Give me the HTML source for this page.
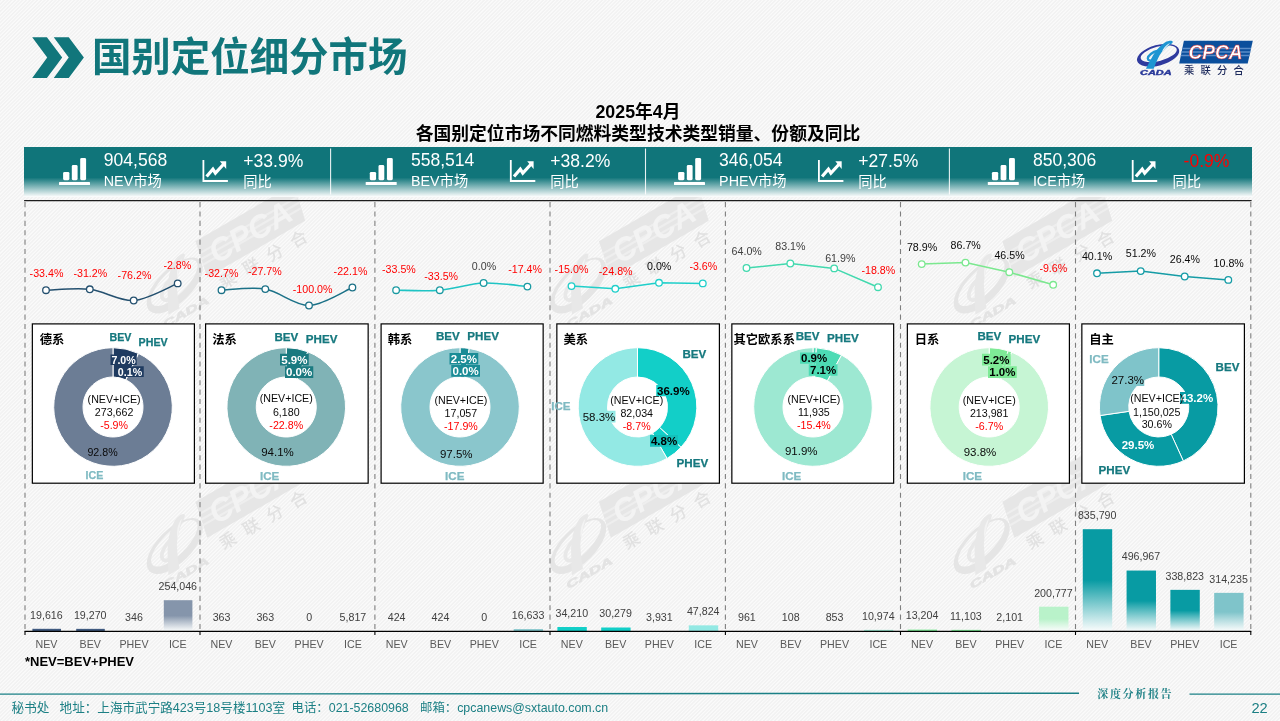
<!DOCTYPE html>
<html lang="zh-CN">
<head>
<meta charset="utf-8">
<title>国别定位细分市场</title>
<style>
*{margin:0;padding:0;box-sizing:border-box}
html,body{width:1280px;height:721px;overflow:hidden;background:#f6f6f6}
body{font-family:"Liberation Sans","Noto Sans CJK SC",sans-serif;position:relative}
#slide{position:absolute;left:0;top:0;width:1280px;height:721px;overflow:hidden;
 background:repeating-linear-gradient(135deg,#f2f2f2 0,#f2f2f2 0.95px,#fafafa 1.45px,#fafafa 2.1px,#f2f2f2 2.61px);}
.t{position:absolute;white-space:nowrap;line-height:1}
svg{position:absolute;left:0;top:0;overflow:visible}
svg text{font-family:"Liberation Sans","Noto Sans CJK SC",sans-serif}
.b{font-weight:bold}
</style>
</head>
<body>
<div id="slide">
<svg id="wm" width="1280" height="721" viewBox="0 0 1280 721" aria-hidden="false">
<g transform="translate(172.5 287) rotate(-30) scale(1.65)"><g transform="translate(0 -2.4)"><path d="M25.9 -14.7H94.8L89.7 7.9H21.2Z" fill="#e6e6e6"/><path d="M24.2 -7H93M23.4 -3.5H92.2M22.6 0H91.4" stroke="#eeeeee" stroke-width="1.3"/><text x="57.5" y="3.8" font-size="19.5" font-weight="bold" font-style="italic" text-anchor="middle" fill="#f3f3f3" textLength="55" lengthAdjust="spacingAndGlyphs">CPCA</text><text x="26" y="19.1" font-size="10.2" font-weight="500" fill="#e1e1e1" letter-spacing="6.3">乘联分合</text></g><g transform="translate(-1156.5 -55.4)"><g transform="translate(1158.1 55.3)"><path transform="rotate(-15)" fill-rule="evenodd" fill="#e5e5e5" d="M-21.7 0A21.7 10.3 0 1 0 21.7 0A21.7 10.3 0 1 0 -21.7 0ZM-17.6 -1.3A18.6 7.2 0 1 1 19.6 -1.3A18.6 7.2 0 1 1 -17.6 -1.3Z"/><path fill="#e8e8e8" d="M-12.2 13.4L-4.4 13.4C-2.5 8.5 -0.5 3.8 1.5 0C4 -4 7.5 -7.5 11 -10C13.5 -11.7 15.2 -12.8 14.6 -13.8C13.8 -15 10 -14.6 7.2 -13C2.5 -10 -2 -5 -5 0C-7.5 4.5 -10.4 10.5 -12.2 13.4Z"/><path fill="#f3f3f3" d="M4.2 -3.4C6.5 -6.6 9.8 -9.8 12.0 -12.2C9.5 -11.4 6.6 -8.6 5.2 -6.2C4.6 -5.2 4.1 -4.2 4.2 -3.4Z"/><path fill="none" stroke="#e8e8e8" stroke-width="2.3" stroke-linecap="round" d="M-0.2 -4.6C-5.5 -3.4 -10.4 0.3 -10.3 3.2C-10.2 5.3 -7.8 5.6 -5.8 5"/><text x="-18.1" y="19.6" font-size="6.3" font-weight="bold" font-style="italic" fill="#e3e3e3" stroke="#e3e3e3" stroke-width="0.35" textLength="31.6" lengthAdjust="spacingAndGlyphs">CADA</text></g></g></g>
<g transform="translate(576 287) rotate(-30) scale(1.65)"><g transform="translate(0 -2.4)"><path d="M25.9 -14.7H94.8L89.7 7.9H21.2Z" fill="#e6e6e6"/><path d="M24.2 -7H93M23.4 -3.5H92.2M22.6 0H91.4" stroke="#eeeeee" stroke-width="1.3"/><text x="57.5" y="3.8" font-size="19.5" font-weight="bold" font-style="italic" text-anchor="middle" fill="#f3f3f3" textLength="55" lengthAdjust="spacingAndGlyphs">CPCA</text><text x="26" y="19.1" font-size="10.2" font-weight="500" fill="#e1e1e1" letter-spacing="6.3">乘联分合</text></g><g transform="translate(-1156.5 -55.4)"><g transform="translate(1158.1 55.3)"><path transform="rotate(-15)" fill-rule="evenodd" fill="#e5e5e5" d="M-21.7 0A21.7 10.3 0 1 0 21.7 0A21.7 10.3 0 1 0 -21.7 0ZM-17.6 -1.3A18.6 7.2 0 1 1 19.6 -1.3A18.6 7.2 0 1 1 -17.6 -1.3Z"/><path fill="#e8e8e8" d="M-12.2 13.4L-4.4 13.4C-2.5 8.5 -0.5 3.8 1.5 0C4 -4 7.5 -7.5 11 -10C13.5 -11.7 15.2 -12.8 14.6 -13.8C13.8 -15 10 -14.6 7.2 -13C2.5 -10 -2 -5 -5 0C-7.5 4.5 -10.4 10.5 -12.2 13.4Z"/><path fill="#f3f3f3" d="M4.2 -3.4C6.5 -6.6 9.8 -9.8 12.0 -12.2C9.5 -11.4 6.6 -8.6 5.2 -6.2C4.6 -5.2 4.1 -4.2 4.2 -3.4Z"/><path fill="none" stroke="#e8e8e8" stroke-width="2.3" stroke-linecap="round" d="M-0.2 -4.6C-5.5 -3.4 -10.4 0.3 -10.3 3.2C-10.2 5.3 -7.8 5.6 -5.8 5"/><text x="-18.1" y="19.6" font-size="6.3" font-weight="bold" font-style="italic" fill="#e3e3e3" stroke="#e3e3e3" stroke-width="0.35" textLength="31.6" lengthAdjust="spacingAndGlyphs">CADA</text></g></g></g>
<g transform="translate(979.5 287) rotate(-30) scale(1.65)"><g transform="translate(0 -2.4)"><path d="M25.9 -14.7H94.8L89.7 7.9H21.2Z" fill="#e6e6e6"/><path d="M24.2 -7H93M23.4 -3.5H92.2M22.6 0H91.4" stroke="#eeeeee" stroke-width="1.3"/><text x="57.5" y="3.8" font-size="19.5" font-weight="bold" font-style="italic" text-anchor="middle" fill="#f3f3f3" textLength="55" lengthAdjust="spacingAndGlyphs">CPCA</text><text x="26" y="19.1" font-size="10.2" font-weight="500" fill="#e1e1e1" letter-spacing="6.3">乘联分合</text></g><g transform="translate(-1156.5 -55.4)"><g transform="translate(1158.1 55.3)"><path transform="rotate(-15)" fill-rule="evenodd" fill="#e5e5e5" d="M-21.7 0A21.7 10.3 0 1 0 21.7 0A21.7 10.3 0 1 0 -21.7 0ZM-17.6 -1.3A18.6 7.2 0 1 1 19.6 -1.3A18.6 7.2 0 1 1 -17.6 -1.3Z"/><path fill="#e8e8e8" d="M-12.2 13.4L-4.4 13.4C-2.5 8.5 -0.5 3.8 1.5 0C4 -4 7.5 -7.5 11 -10C13.5 -11.7 15.2 -12.8 14.6 -13.8C13.8 -15 10 -14.6 7.2 -13C2.5 -10 -2 -5 -5 0C-7.5 4.5 -10.4 10.5 -12.2 13.4Z"/><path fill="#f3f3f3" d="M4.2 -3.4C6.5 -6.6 9.8 -9.8 12.0 -12.2C9.5 -11.4 6.6 -8.6 5.2 -6.2C4.6 -5.2 4.1 -4.2 4.2 -3.4Z"/><path fill="none" stroke="#e8e8e8" stroke-width="2.3" stroke-linecap="round" d="M-0.2 -4.6C-5.5 -3.4 -10.4 0.3 -10.3 3.2C-10.2 5.3 -7.8 5.6 -5.8 5"/><text x="-18.1" y="19.6" font-size="6.3" font-weight="bold" font-style="italic" fill="#e3e3e3" stroke="#e3e3e3" stroke-width="0.35" textLength="31.6" lengthAdjust="spacingAndGlyphs">CADA</text></g></g></g>
<g transform="translate(172.5 547.5) rotate(-30) scale(1.65)"><g transform="translate(0 -2.4)"><path d="M25.9 -14.7H94.8L89.7 7.9H21.2Z" fill="#e6e6e6"/><path d="M24.2 -7H93M23.4 -3.5H92.2M22.6 0H91.4" stroke="#eeeeee" stroke-width="1.3"/><text x="57.5" y="3.8" font-size="19.5" font-weight="bold" font-style="italic" text-anchor="middle" fill="#f3f3f3" textLength="55" lengthAdjust="spacingAndGlyphs">CPCA</text><text x="26" y="19.1" font-size="10.2" font-weight="500" fill="#e1e1e1" letter-spacing="6.3">乘联分合</text></g><g transform="translate(-1156.5 -55.4)"><g transform="translate(1158.1 55.3)"><path transform="rotate(-15)" fill-rule="evenodd" fill="#e5e5e5" d="M-21.7 0A21.7 10.3 0 1 0 21.7 0A21.7 10.3 0 1 0 -21.7 0ZM-17.6 -1.3A18.6 7.2 0 1 1 19.6 -1.3A18.6 7.2 0 1 1 -17.6 -1.3Z"/><path fill="#e8e8e8" d="M-12.2 13.4L-4.4 13.4C-2.5 8.5 -0.5 3.8 1.5 0C4 -4 7.5 -7.5 11 -10C13.5 -11.7 15.2 -12.8 14.6 -13.8C13.8 -15 10 -14.6 7.2 -13C2.5 -10 -2 -5 -5 0C-7.5 4.5 -10.4 10.5 -12.2 13.4Z"/><path fill="#f3f3f3" d="M4.2 -3.4C6.5 -6.6 9.8 -9.8 12.0 -12.2C9.5 -11.4 6.6 -8.6 5.2 -6.2C4.6 -5.2 4.1 -4.2 4.2 -3.4Z"/><path fill="none" stroke="#e8e8e8" stroke-width="2.3" stroke-linecap="round" d="M-0.2 -4.6C-5.5 -3.4 -10.4 0.3 -10.3 3.2C-10.2 5.3 -7.8 5.6 -5.8 5"/><text x="-18.1" y="19.6" font-size="6.3" font-weight="bold" font-style="italic" fill="#e3e3e3" stroke="#e3e3e3" stroke-width="0.35" textLength="31.6" lengthAdjust="spacingAndGlyphs">CADA</text></g></g></g>
<g transform="translate(576 547.5) rotate(-30) scale(1.65)"><g transform="translate(0 -2.4)"><path d="M25.9 -14.7H94.8L89.7 7.9H21.2Z" fill="#e6e6e6"/><path d="M24.2 -7H93M23.4 -3.5H92.2M22.6 0H91.4" stroke="#eeeeee" stroke-width="1.3"/><text x="57.5" y="3.8" font-size="19.5" font-weight="bold" font-style="italic" text-anchor="middle" fill="#f3f3f3" textLength="55" lengthAdjust="spacingAndGlyphs">CPCA</text><text x="26" y="19.1" font-size="10.2" font-weight="500" fill="#e1e1e1" letter-spacing="6.3">乘联分合</text></g><g transform="translate(-1156.5 -55.4)"><g transform="translate(1158.1 55.3)"><path transform="rotate(-15)" fill-rule="evenodd" fill="#e5e5e5" d="M-21.7 0A21.7 10.3 0 1 0 21.7 0A21.7 10.3 0 1 0 -21.7 0ZM-17.6 -1.3A18.6 7.2 0 1 1 19.6 -1.3A18.6 7.2 0 1 1 -17.6 -1.3Z"/><path fill="#e8e8e8" d="M-12.2 13.4L-4.4 13.4C-2.5 8.5 -0.5 3.8 1.5 0C4 -4 7.5 -7.5 11 -10C13.5 -11.7 15.2 -12.8 14.6 -13.8C13.8 -15 10 -14.6 7.2 -13C2.5 -10 -2 -5 -5 0C-7.5 4.5 -10.4 10.5 -12.2 13.4Z"/><path fill="#f3f3f3" d="M4.2 -3.4C6.5 -6.6 9.8 -9.8 12.0 -12.2C9.5 -11.4 6.6 -8.6 5.2 -6.2C4.6 -5.2 4.1 -4.2 4.2 -3.4Z"/><path fill="none" stroke="#e8e8e8" stroke-width="2.3" stroke-linecap="round" d="M-0.2 -4.6C-5.5 -3.4 -10.4 0.3 -10.3 3.2C-10.2 5.3 -7.8 5.6 -5.8 5"/><text x="-18.1" y="19.6" font-size="6.3" font-weight="bold" font-style="italic" fill="#e3e3e3" stroke="#e3e3e3" stroke-width="0.35" textLength="31.6" lengthAdjust="spacingAndGlyphs">CADA</text></g></g></g>
<g transform="translate(979.5 547.5) rotate(-30) scale(1.65)"><g transform="translate(0 -2.4)"><path d="M25.9 -14.7H94.8L89.7 7.9H21.2Z" fill="#e6e6e6"/><path d="M24.2 -7H93M23.4 -3.5H92.2M22.6 0H91.4" stroke="#eeeeee" stroke-width="1.3"/><text x="57.5" y="3.8" font-size="19.5" font-weight="bold" font-style="italic" text-anchor="middle" fill="#f3f3f3" textLength="55" lengthAdjust="spacingAndGlyphs">CPCA</text><text x="26" y="19.1" font-size="10.2" font-weight="500" fill="#e1e1e1" letter-spacing="6.3">乘联分合</text></g><g transform="translate(-1156.5 -55.4)"><g transform="translate(1158.1 55.3)"><path transform="rotate(-15)" fill-rule="evenodd" fill="#e5e5e5" d="M-21.7 0A21.7 10.3 0 1 0 21.7 0A21.7 10.3 0 1 0 -21.7 0ZM-17.6 -1.3A18.6 7.2 0 1 1 19.6 -1.3A18.6 7.2 0 1 1 -17.6 -1.3Z"/><path fill="#e8e8e8" d="M-12.2 13.4L-4.4 13.4C-2.5 8.5 -0.5 3.8 1.5 0C4 -4 7.5 -7.5 11 -10C13.5 -11.7 15.2 -12.8 14.6 -13.8C13.8 -15 10 -14.6 7.2 -13C2.5 -10 -2 -5 -5 0C-7.5 4.5 -10.4 10.5 -12.2 13.4Z"/><path fill="#f3f3f3" d="M4.2 -3.4C6.5 -6.6 9.8 -9.8 12.0 -12.2C9.5 -11.4 6.6 -8.6 5.2 -6.2C4.6 -5.2 4.1 -4.2 4.2 -3.4Z"/><path fill="none" stroke="#e8e8e8" stroke-width="2.3" stroke-linecap="round" d="M-0.2 -4.6C-5.5 -3.4 -10.4 0.3 -10.3 3.2C-10.2 5.3 -7.8 5.6 -5.8 5"/><text x="-18.1" y="19.6" font-size="6.3" font-weight="bold" font-style="italic" fill="#e3e3e3" stroke="#e3e3e3" stroke-width="0.35" textLength="31.6" lengthAdjust="spacingAndGlyphs">CADA</text></g></g></g>
</svg>
<header>
<svg width="1280" height="100" viewBox="0 0 1280 100" aria-hidden="true"><path d="M32.2 37.2H46.9L62.2 57.5L46.9 78H32.2L47.2 57.5Z" fill="#11767b"/><path d="M53.75 37.2H68.75L83.9 57.5L68.75 78H53.75L68.75 57.5Z" fill="#11767b"/></svg>
<svg width="1280" height="100" viewBox="0 0 1280 100"><path d="M1183.9 40.8H1252.8L1247.7 63.4H1179.2Z" fill="#0b4f9c"/><path d="M1182.3 48.5H1251.0" stroke="#5a8cc8" stroke-width="1.3"/><path d="M1181.5 52H1250.2" stroke="#5a8cc8" stroke-width="1.3"/><path d="M1180.8 55.5H1249.5" stroke="#5a8cc8" stroke-width="1.3"/><text x="1215.5" y="59.3" font-size="19.5" font-weight="bold" font-style="italic" text-anchor="middle" fill="#fff" stroke="#e03030" stroke-width="0.5" textLength="54" lengthAdjust="spacingAndGlyphs">CPCA</text><text x="1184" y="74.2" font-size="10.3" font-weight="500" fill="#1c2a5c" letter-spacing="6.2">乘联分合</text><g transform="translate(1158.1 55.3)"><path transform="rotate(-15)" fill-rule="evenodd" fill="#2f3a9e" d="M-21.7 0A21.7 10.3 0 1 0 21.7 0A21.7 10.3 0 1 0 -21.7 0ZM-17.6 -1.3A18.6 7.2 0 1 1 19.6 -1.3A18.6 7.2 0 1 1 -17.6 -1.3Z"/><path fill="#1e95d2" d="M-12.2 13.4L-4.4 13.4C-2.5 8.5 -0.5 3.8 1.5 0C4 -4 7.5 -7.5 11 -10C13.5 -11.7 15.2 -12.8 14.6 -13.8C13.8 -15 10 -14.6 7.2 -13C2.5 -10 -2 -5 -5 0C-7.5 4.5 -10.4 10.5 -12.2 13.4Z"/><path fill="#f6f6f6" d="M4.2 -3.4C6.5 -6.6 9.8 -9.8 12.0 -12.2C9.5 -11.4 6.6 -8.6 5.2 -6.2C4.6 -5.2 4.1 -4.2 4.2 -3.4Z"/><path fill="none" stroke="#1e95d2" stroke-width="2.3" stroke-linecap="round" d="M-0.2 -4.6C-5.5 -3.4 -10.4 0.3 -10.3 3.2C-10.2 5.3 -7.8 5.6 -5.8 5"/><text x="-18.1" y="19.6" font-size="6.3" font-weight="bold" font-style="italic" fill="#2a3a9a" stroke="#2a3a9a" stroke-width="0.35" textLength="31.6" lengthAdjust="spacingAndGlyphs">CADA</text></g></svg>
<svg width="1280" height="150" viewBox="0 0 1280 150" role="heading">
<text x="91.90" y="71.00" font-size="39.45" fill="#11767b" font-weight="bold">国别定位细分市场</text>
<text x="638.00" y="118.00" font-size="17.8" fill="#000" font-weight="bold" text-anchor="middle">2025年4月</text>
<text x="638.00" y="140.30" font-size="17.8" fill="#000" font-weight="bold" text-anchor="middle">各国别定位市场不同燃料类型技术类型销量、份额及同比</text>
</svg>
</header>
<section id="kpi">
<div style="position:absolute;left:24px;top:147px;width:1228px;height:49.5px;background:linear-gradient(180deg,#10757a 0,#10757a 61%,rgba(255,255,255,.96) 100%)"></div>
<svg width="1280" height="721" viewBox="0 0 1280 721" aria-hidden="true"><path d="M330.6 148.5V194.5" stroke="#fff" stroke-width="1.1" opacity=".9"/><path d="M645.5 148.5V194.5" stroke="#fff" stroke-width="1.1" opacity=".9"/><path d="M949.4 148.5V194.5" stroke="#fff" stroke-width="1.1" opacity=".9"/><g fill="#fff"><rect x="59.0" y="181.9" width="31" height="3.1" rx=".6"/><rect x="63.1" y="171.9" width="6.3" height="8.3" rx="1.4"/><rect x="71.8" y="165" width="5.8" height="15.2" rx="1.4"/><rect x="80.2" y="158.1" width="5.9" height="22.1" rx="1.4"/></g><g fill="none" stroke="#fff"><path d="M203.4 160V181H227.9" stroke-width="1.8"/><path d="M206.6 176.5L212.9 169.2L215.4 173.2L223.8 164" stroke-width="3.2" stroke-linejoin="miter"/></g><path d="M219.8 161.2H226.2V169Z" fill="#fff"/><g fill="#fff"><rect x="365.7" y="181.9" width="31" height="3.1" rx=".6"/><rect x="369.8" y="171.9" width="6.3" height="8.3" rx="1.4"/><rect x="378.5" y="165" width="5.8" height="15.2" rx="1.4"/><rect x="386.9" y="158.1" width="5.9" height="22.1" rx="1.4"/></g><g fill="none" stroke="#fff"><path d="M510.8 160V181H535.3" stroke-width="1.8"/><path d="M514.0 176.5L520.3 169.2L522.8 173.2L531.2 164" stroke-width="3.2" stroke-linejoin="miter"/></g><path d="M527.2 161.2H533.6V169Z" fill="#fff"/><g fill="#fff"><rect x="674.0" y="181.9" width="31" height="3.1" rx=".6"/><rect x="678.1" y="171.9" width="6.3" height="8.3" rx="1.4"/><rect x="686.8" y="165" width="5.8" height="15.2" rx="1.4"/><rect x="695.2" y="158.1" width="5.9" height="22.1" rx="1.4"/></g><g fill="none" stroke="#fff"><path d="M818.9 160V181H843.4" stroke-width="1.8"/><path d="M822.1 176.5L828.4 169.2L830.9 173.2L839.3 164" stroke-width="3.2" stroke-linejoin="miter"/></g><path d="M835.3 161.2H841.7V169Z" fill="#fff"/><g fill="#fff"><rect x="987.8" y="181.9" width="31" height="3.1" rx=".6"/><rect x="991.9" y="171.9" width="6.3" height="8.3" rx="1.4"/><rect x="1000.6" y="165" width="5.8" height="15.2" rx="1.4"/><rect x="1009.0" y="158.1" width="5.9" height="22.1" rx="1.4"/></g><g fill="none" stroke="#fff"><path d="M1132.7 160V181H1157.2" stroke-width="1.8"/><path d="M1135.9 176.5L1142.2 169.2L1144.7 173.2L1153.1 164" stroke-width="3.2" stroke-linejoin="miter"/></g><path d="M1149.1 161.2H1155.5V169Z" fill="#fff"/></svg>
<svg width="1280" height="721" viewBox="0 0 1280 721">
<text transform="translate(103.80 165.90) scale(1 1.07)" font-size="17.55" fill="#fff">904,568</text>
<text transform="translate(103.80 186.10) scale(1 1.04)" font-size="14.3" fill="#fff">NEV市场</text>
<text transform="translate(243.30 167.15) scale(1 1.07)" font-size="17.55" fill="#fff">+33.9%</text>
<text transform="translate(243.20 186.60) scale(1 1.04)" font-size="14.3" fill="#fff">同比</text>
<text transform="translate(411.00 165.90) scale(1 1.07)" font-size="17.55" fill="#fff">558,514</text>
<text transform="translate(411.00 186.10) scale(1 1.04)" font-size="14.3" fill="#fff">BEV市场</text>
<text transform="translate(550.30 167.15) scale(1 1.07)" font-size="17.55" fill="#fff">+38.2%</text>
<text transform="translate(550.20 186.60) scale(1 1.04)" font-size="14.3" fill="#fff">同比</text>
<text transform="translate(719.10 165.90) scale(1 1.07)" font-size="17.55" fill="#fff">346,054</text>
<text transform="translate(719.10 186.10) scale(1 1.04)" font-size="14.3" fill="#fff">PHEV市场</text>
<text transform="translate(858.30 167.15) scale(1 1.07)" font-size="17.55" fill="#fff">+27.5%</text>
<text transform="translate(858.20 186.60) scale(1 1.04)" font-size="14.3" fill="#fff">同比</text>
<text transform="translate(1032.90 165.90) scale(1 1.07)" font-size="17.55" fill="#fff">850,306</text>
<text transform="translate(1032.90 186.10) scale(1 1.04)" font-size="14.3" fill="#fff">ICE市场</text>
<text transform="translate(1183.60 167.15) scale(1 1.07)" font-size="17.55" fill="#ff0000">-0.9%</text>
<text transform="translate(1172.40 186.60) scale(1 1.04)" font-size="14.3" fill="#fff">同比</text>
</svg>
</section>
<svg id="charts" width="1280" height="721" viewBox="0 0 1280 721">
<path d="M24.1 200.6H1251.6" stroke="#1e1e1e" stroke-width="1.15"/>
<path d="M25.0 202V630.7" stroke="#7f7f7f" stroke-width="1.1" stroke-dasharray="5.2 4.175"/>
<path d="M200.0 202V630.7" stroke="#7f7f7f" stroke-width="1.1" stroke-dasharray="5.2 4.175"/>
<path d="M374.9 202V630.7" stroke="#7f7f7f" stroke-width="1.1" stroke-dasharray="5.2 4.175"/>
<path d="M550.0 202V630.7" stroke="#7f7f7f" stroke-width="1.1" stroke-dasharray="5.2 4.175"/>
<path d="M725.4 202V630.7" stroke="#7f7f7f" stroke-width="1.1" stroke-dasharray="5.2 4.175"/>
<path d="M900.5 202V630.7" stroke="#7f7f7f" stroke-width="1.1" stroke-dasharray="5.2 4.175"/>
<path d="M1075.5 202V630.7" stroke="#7f7f7f" stroke-width="1.1" stroke-dasharray="5.2 4.175"/>
<path d="M1250.8 202V630.7" stroke="#7f7f7f" stroke-width="1.1" stroke-dasharray="5.2 4.175"/>
<path d="M46.0 290.2C53.0 290.1 75.8 287.7 89.8 289.3C103.8 290.9 119.6 301.4 133.7 300.5C147.8 299.6 170.7 286.1 177.7 283.4" fill="none" stroke="#24506f" stroke-width="1.55" stroke-linecap="round" stroke-linejoin="round"/>
<circle cx="46.0" cy="290.2" r="3.3" fill="#fff" stroke="#24506f" stroke-width="1.3"/>
<circle cx="89.8" cy="289.3" r="3.3" fill="#fff" stroke="#24506f" stroke-width="1.3"/>
<circle cx="133.7" cy="300.5" r="3.3" fill="#fff" stroke="#24506f" stroke-width="1.3"/>
<circle cx="177.7" cy="283.4" r="3.3" fill="#fff" stroke="#24506f" stroke-width="1.3"/>
<text x="46.50" y="277.22" font-size="10.67" fill="#ff0000" text-anchor="middle">-33.4%</text>
<text x="90.30" y="276.82" font-size="10.67" fill="#ff0000" text-anchor="middle">-31.2%</text>
<text x="134.50" y="279.12" font-size="10.67" fill="#ff0000" text-anchor="middle">-76.2%</text>
<text x="177.30" y="269.12" font-size="10.67" fill="#ff0000" text-anchor="middle">-2.8%</text>
<path d="M221.5 290.2C228.5 290.0 251.3 286.7 265.3 289.1C279.3 291.5 295.1 305.8 309.0 305.5C322.9 305.2 345.5 290.4 352.4 287.5" fill="none" stroke="#1b7187" stroke-width="1.55" stroke-linecap="round" stroke-linejoin="round"/>
<circle cx="221.5" cy="290.2" r="3.3" fill="#fff" stroke="#1b7187" stroke-width="1.3"/>
<circle cx="265.3" cy="289.1" r="3.3" fill="#fff" stroke="#1b7187" stroke-width="1.3"/>
<circle cx="309.0" cy="305.5" r="3.3" fill="#fff" stroke="#1b7187" stroke-width="1.3"/>
<circle cx="352.4" cy="287.5" r="3.3" fill="#fff" stroke="#1b7187" stroke-width="1.3"/>
<text x="221.50" y="277.22" font-size="10.67" fill="#ff0000" text-anchor="middle">-32.7%</text>
<text x="264.80" y="275.12" font-size="10.67" fill="#ff0000" text-anchor="middle">-27.7%</text>
<text x="312.60" y="292.92" font-size="10.67" fill="#ff0000" text-anchor="middle">-100.0%</text>
<text x="350.50" y="275.12" font-size="10.67" fill="#ff0000" text-anchor="middle">-22.1%</text>
<path d="M396.1 290.2C403.1 290.2 425.8 291.4 439.8 290.2C453.8 289.0 469.6 283.6 483.6 283.0C497.6 282.4 520.4 286.0 527.4 286.6" fill="none" stroke="#1fc4c4" stroke-width="1.55" stroke-linecap="round" stroke-linejoin="round"/>
<circle cx="396.1" cy="290.2" r="3.3" fill="#fff" stroke="#1a9aa2" stroke-width="1.3"/>
<circle cx="439.8" cy="290.2" r="3.3" fill="#fff" stroke="#1a9aa2" stroke-width="1.3"/>
<circle cx="483.6" cy="283.0" r="3.3" fill="#fff" stroke="#1a9aa2" stroke-width="1.3"/>
<circle cx="527.4" cy="286.6" r="3.3" fill="#fff" stroke="#1a9aa2" stroke-width="1.3"/>
<text x="398.90" y="272.72" font-size="10.67" fill="#ff0000" text-anchor="middle">-33.5%</text>
<text x="441.20" y="280.02" font-size="10.67" fill="#ff0000" text-anchor="middle">-33.5%</text>
<text x="484.00" y="269.72" font-size="10.67" fill="#404040" text-anchor="middle">0.0%</text>
<text x="525.10" y="272.72" font-size="10.67" fill="#ff0000" text-anchor="middle">-17.4%</text>
<path d="M571.5 286.1L615.3 288.8L659.0 282.8L702.8 283.4" fill="none" stroke="#1fcfca" stroke-width="1.55" stroke-linecap="round" stroke-linejoin="round"/>
<circle cx="571.5" cy="286.1" r="3.3" fill="#fff" stroke="#1fcfca" stroke-width="1.3"/>
<circle cx="615.3" cy="288.8" r="3.3" fill="#fff" stroke="#1fcfca" stroke-width="1.3"/>
<circle cx="659.0" cy="282.8" r="3.3" fill="#fff" stroke="#1fcfca" stroke-width="1.3"/>
<circle cx="702.8" cy="283.4" r="3.3" fill="#fff" stroke="#1fcfca" stroke-width="1.3"/>
<text x="571.50" y="272.72" font-size="10.67" fill="#ff0000" text-anchor="middle">-15.0%</text>
<text x="615.70" y="275.42" font-size="10.67" fill="#ff0000" text-anchor="middle">-24.8%</text>
<text x="659.20" y="269.72" font-size="10.67" fill="#0a0a0a" text-anchor="middle">0.0%</text>
<text x="703.30" y="270.02" font-size="10.67" fill="#ff0000" text-anchor="middle">-3.6%</text>
<path d="M746.5 268.0L790.3 263.5L834.2 268.4L878.0 287.2" fill="none" stroke="#41d9ae" stroke-width="1.55" stroke-linecap="round" stroke-linejoin="round"/>
<circle cx="746.5" cy="268.0" r="3.3" fill="#fff" stroke="#41d9ae" stroke-width="1.3"/>
<circle cx="790.3" cy="263.5" r="3.3" fill="#fff" stroke="#41d9ae" stroke-width="1.3"/>
<circle cx="834.2" cy="268.4" r="3.3" fill="#fff" stroke="#41d9ae" stroke-width="1.3"/>
<circle cx="878.0" cy="287.2" r="3.3" fill="#fff" stroke="#41d9ae" stroke-width="1.3"/>
<text x="746.70" y="255.12" font-size="10.67" fill="#404040" text-anchor="middle">64.0%</text>
<text x="790.40" y="250.22" font-size="10.67" fill="#404040" text-anchor="middle">83.1%</text>
<text x="840.30" y="262.32" font-size="10.67" fill="#404040" text-anchor="middle">61.9%</text>
<text x="878.30" y="274.02" font-size="10.67" fill="#ff0000" text-anchor="middle">-18.8%</text>
<path d="M921.7 264.1L965.5 262.6L1009.3 272.2L1053.2 284.8" fill="none" stroke="#7be88f" stroke-width="1.55" stroke-linecap="round" stroke-linejoin="round"/>
<circle cx="921.7" cy="264.1" r="3.3" fill="#fff" stroke="#7be88f" stroke-width="1.3"/>
<circle cx="965.5" cy="262.6" r="3.3" fill="#fff" stroke="#7be88f" stroke-width="1.3"/>
<circle cx="1009.3" cy="272.2" r="3.3" fill="#fff" stroke="#7be88f" stroke-width="1.3"/>
<circle cx="1053.2" cy="284.8" r="3.3" fill="#fff" stroke="#7be88f" stroke-width="1.3"/>
<text x="922.00" y="251.12" font-size="10.67" fill="#0a0a0a" text-anchor="middle">78.9%</text>
<text x="965.70" y="249.32" font-size="10.67" fill="#0a0a0a" text-anchor="middle">86.7%</text>
<text x="1009.50" y="258.72" font-size="10.67" fill="#0a0a0a" text-anchor="middle">46.5%</text>
<text x="1053.30" y="271.82" font-size="10.67" fill="#ff0000" text-anchor="middle">-9.6%</text>
<path d="M1097.0 273.3L1140.7 271.1L1184.7 276.5L1228.3 279.9" fill="none" stroke="#159ca6" stroke-width="1.55" stroke-linecap="round" stroke-linejoin="round"/>
<circle cx="1097.0" cy="273.3" r="3.3" fill="#fff" stroke="#159ca6" stroke-width="1.3"/>
<circle cx="1140.7" cy="271.1" r="3.3" fill="#fff" stroke="#159ca6" stroke-width="1.3"/>
<circle cx="1184.7" cy="276.5" r="3.3" fill="#fff" stroke="#159ca6" stroke-width="1.3"/>
<circle cx="1228.3" cy="279.9" r="3.3" fill="#fff" stroke="#159ca6" stroke-width="1.3"/>
<text x="1097.00" y="260.12" font-size="10.67" fill="#0a0a0a" text-anchor="middle">40.1%</text>
<text x="1140.90" y="257.42" font-size="10.67" fill="#0a0a0a" text-anchor="middle">51.2%</text>
<text x="1184.90" y="263.22" font-size="10.67" fill="#0a0a0a" text-anchor="middle">26.4%</text>
<text x="1228.70" y="267.32" font-size="10.67" fill="#0a0a0a" text-anchor="middle">10.8%</text>
<rect x="32.35" y="323.9" width="162.05" height="159.3" fill="#fff" stroke="#000" stroke-width="1.2"/>
<rect x="205.60" y="323.9" width="162.55" height="159.3" fill="#fff" stroke="#000" stroke-width="1.2"/>
<rect x="381.10" y="323.9" width="162.05" height="159.3" fill="#fff" stroke="#000" stroke-width="1.2"/>
<rect x="556.85" y="323.9" width="162.55" height="159.3" fill="#fff" stroke="#000" stroke-width="1.2"/>
<rect x="731.85" y="323.9" width="161.80" height="159.3" fill="#fff" stroke="#000" stroke-width="1.2"/>
<rect x="907.35" y="323.9" width="162.05" height="159.3" fill="#fff" stroke="#000" stroke-width="1.2"/>
<rect x="1081.85" y="323.9" width="162.55" height="159.3" fill="#fff" stroke="#000" stroke-width="1.2"/>
<path d="M113.00 347.70A59.3 59.3 0 0 1 138.27 353.35L125.79 379.86A30 30 0 0 0 113.00 377.00Z" fill="#1f3b60" stroke="#fff" stroke-width="1" stroke-linejoin="round"/>
<path d="M138.27 353.35A59.3 59.3 0 0 1 138.61 353.51L125.96 379.94A30 30 0 0 0 125.79 379.86Z" fill="#1f3b60" stroke="#fff" stroke-width="1" stroke-linejoin="round"/>
<path d="M138.61 353.51A59.3 59.3 0 1 1 113.00 347.70L113.00 377.00A30 30 0 1 0 125.96 379.94Z" fill="#6c7d95" stroke="#fff" stroke-width="1" stroke-linejoin="round"/>
<text x="39.70" y="344.30" font-size="12.3" fill="#000" font-weight="bold">德系</text>
<text x="120.40" y="341.32" font-size="10.67" fill="#15787e" font-weight="bold" text-anchor="middle" stroke="#15787e" stroke-width="0.25">BEV</text>
<text x="153.10" y="345.57" font-size="10.67" fill="#15787e" font-weight="bold" text-anchor="middle" stroke="#15787e" stroke-width="0.25">PHEV</text>
<text x="94.50" y="478.82" font-size="10.67" fill="#7fbac2" font-weight="bold" text-anchor="middle" stroke="#7fbac2" stroke-width="0.25">ICE</text>
<rect x="110.50" y="354.50" width="26.25" height="10.50" fill="#1f3b60"/>
<text x="123.62" y="363.77" font-size="10.67" fill="#fff" font-weight="bold" text-anchor="middle">7.0%</text>
<rect x="116.25" y="366.25" width="27.50" height="10.75" fill="#1f3b60"/>
<text x="130.00" y="375.64" font-size="10.67" fill="#fff" font-weight="bold" text-anchor="middle">0.1%</text>
<text x="102.50" y="455.82" font-size="10.67" fill="#0a0a0a" text-anchor="middle">92.8%</text>
<text x="114.10" y="403.20" font-size="10.67" fill="#0a0a0a" text-anchor="middle">(NEV+ICE)</text>
<text x="114.10" y="416.32" font-size="10.67" fill="#0a0a0a" text-anchor="middle">273,662</text>
<text x="114.10" y="429.32" font-size="10.67" fill="#ff0000" text-anchor="middle">-5.9%</text>
<path d="M286.25 347.70A59.3 59.3 0 0 1 307.73 351.73L297.12 379.04A30 30 0 0 0 286.25 377.00Z" fill="#1a7a80" stroke="#fff" stroke-width="1" stroke-linejoin="round"/>
<path d="M307.73 351.73A59.3 59.3 0 1 1 286.25 347.70L286.25 377.00A30 30 0 1 0 297.12 379.04Z" fill="#80b3b6" stroke="#fff" stroke-width="1" stroke-linejoin="round"/>
<text x="212.20" y="344.30" font-size="12.3" fill="#000" font-weight="bold">法系</text>
<text x="286.40" y="340.90" font-size="11.6" fill="#15787e" font-weight="bold" text-anchor="middle" stroke="#15787e" stroke-width="0.25">BEV</text>
<text x="321.60" y="343.40" font-size="11.6" fill="#15787e" font-weight="bold" text-anchor="middle" stroke="#15787e" stroke-width="0.25">PHEV</text>
<text x="269.60" y="479.90" font-size="11.6" fill="#7fbac2" font-weight="bold" text-anchor="middle" stroke="#7fbac2" stroke-width="0.25">ICE</text>
<rect x="280.00" y="353.75" width="28.75" height="11.75" fill="#1a7a80"/>
<text x="294.38" y="363.94" font-size="11.5" fill="#fff" font-weight="bold" text-anchor="middle">5.9%</text>
<rect x="285.00" y="366.25" width="28.25" height="11.75" fill="#1a7a80"/>
<text x="299.12" y="376.44" font-size="11.5" fill="#fff" font-weight="bold" text-anchor="middle">0.0%</text>
<text x="277.50" y="456.12" font-size="11.5" fill="#0a0a0a" text-anchor="middle">94.1%</text>
<text x="286.25" y="402.45" font-size="10.67" fill="#0a0a0a" text-anchor="middle">(NEV+ICE)</text>
<text x="286.25" y="415.82" font-size="10.67" fill="#0a0a0a" text-anchor="middle">6,180</text>
<text x="286.25" y="428.82" font-size="10.67" fill="#ff0000" text-anchor="middle">-22.8%</text>
<path d="M460.00 347.70A59.3 59.3 0 0 1 469.28 348.43L464.69 377.37A30 30 0 0 0 460.00 377.00Z" fill="#1a8c96" stroke="#fff" stroke-width="1" stroke-linejoin="round"/>
<path d="M469.28 348.43A59.3 59.3 0 1 1 460.00 347.70L460.00 377.00A30 30 0 1 0 464.69 377.37Z" fill="#8ac6cc" stroke="#fff" stroke-width="1" stroke-linejoin="round"/>
<text x="387.70" y="344.30" font-size="12.3" fill="#000" font-weight="bold">韩系</text>
<text x="447.90" y="340.40" font-size="11.6" fill="#15787e" font-weight="bold" text-anchor="middle" stroke="#15787e" stroke-width="0.25">BEV</text>
<text x="483.10" y="340.40" font-size="11.6" fill="#15787e" font-weight="bold" text-anchor="middle" stroke="#15787e" stroke-width="0.25">PHEV</text>
<text x="454.75" y="480.40" font-size="11.6" fill="#7fbac2" font-weight="bold" text-anchor="middle" stroke="#7fbac2" stroke-width="0.25">ICE</text>
<rect x="449.50" y="353.00" width="28.75" height="11.50" fill="#1a8c96"/>
<text x="463.88" y="363.07" font-size="11.5" fill="#fff" font-weight="bold" text-anchor="middle">2.5%</text>
<rect x="451.25" y="365.00" width="28.75" height="11.75" fill="#1a8c96"/>
<text x="465.62" y="375.19" font-size="11.5" fill="#fff" font-weight="bold" text-anchor="middle">0.0%</text>
<text x="456.25" y="457.87" font-size="11.5" fill="#0a0a0a" text-anchor="middle">97.5%</text>
<text x="460.90" y="403.70" font-size="10.67" fill="#0a0a0a" text-anchor="middle">(NEV+ICE)</text>
<text x="460.90" y="417.07" font-size="10.67" fill="#0a0a0a" text-anchor="middle">17,057</text>
<text x="460.90" y="429.57" font-size="10.67" fill="#ff0000" text-anchor="middle">-17.9%</text>
<path d="M637.50 347.70A59.3 59.3 0 0 1 680.98 447.32L659.50 427.40A30 30 0 0 0 637.50 377.00Z" fill="#12cfc8" stroke="#fff" stroke-width="1" stroke-linejoin="round"/>
<path d="M680.98 447.32A59.3 59.3 0 0 1 667.04 458.42L652.45 433.01A30 30 0 0 0 659.50 427.40Z" fill="#12cfc8" stroke="#fff" stroke-width="1" stroke-linejoin="round"/>
<path d="M667.04 458.42A59.3 59.3 0 1 1 637.50 347.70L637.50 377.00A30 30 0 1 0 652.45 433.01Z" fill="#93e9e4" stroke="#fff" stroke-width="1" stroke-linejoin="round"/>
<text x="563.45" y="344.30" font-size="12.3" fill="#000" font-weight="bold">美系</text>
<text x="694.40" y="357.90" font-size="11.6" fill="#15787e" font-weight="bold" text-anchor="middle" stroke="#15787e" stroke-width="0.25">BEV</text>
<text x="692.40" y="467.15" font-size="11.6" fill="#15787e" font-weight="bold" text-anchor="middle" stroke="#15787e" stroke-width="0.25">PHEV</text>
<text x="560.90" y="410.40" font-size="11.6" fill="#7fbac2" font-weight="bold" text-anchor="middle" stroke="#7fbac2" stroke-width="0.25">ICE</text>
<rect x="656.25" y="385.00" width="34.25" height="11.25" fill="#12cfc8"/>
<text x="673.38" y="394.94" font-size="11.5" fill="#000" font-weight="bold" text-anchor="middle">36.9%</text>
<rect x="650.00" y="435.00" width="28.00" height="11.75" fill="#14c1bb"/>
<text x="664.00" y="445.19" font-size="11.5" fill="#000" font-weight="bold" text-anchor="middle">4.8%</text>
<rect x="582.50" y="410.75" width="33.00" height="11.75" fill="#93e9e4"/>
<text x="599.00" y="420.94" font-size="11.5" fill="#0a0a0a" text-anchor="middle">58.3%</text>
<text x="636.70" y="403.70" font-size="10.67" fill="#0a0a0a" text-anchor="middle">(NEV+ICE)</text>
<text x="636.70" y="417.07" font-size="10.67" fill="#0a0a0a" text-anchor="middle">82,034</text>
<text x="636.70" y="429.57" font-size="10.67" fill="#ff0000" text-anchor="middle">-8.7%</text>
<path d="M813.00 347.70A59.3 59.3 0 0 1 816.35 347.79L814.70 377.05A30 30 0 0 0 813.00 377.00Z" fill="#4ddbb4" stroke="#fff" stroke-width="1" stroke-linejoin="round"/>
<path d="M816.35 347.79A59.3 59.3 0 0 1 841.59 355.05L827.47 380.72A30 30 0 0 0 814.70 377.05Z" fill="#4ddbb4" stroke="#fff" stroke-width="1" stroke-linejoin="round"/>
<path d="M841.59 355.05A59.3 59.3 0 1 1 813.00 347.70L813.00 377.00A30 30 0 1 0 827.47 380.72Z" fill="#9de8d2" stroke="#fff" stroke-width="1" stroke-linejoin="round"/>
<text x="733.45" y="344.30" font-size="12.3" fill="#000" font-weight="bold">其它欧系系</text>
<text x="807.60" y="340.40" font-size="11.6" fill="#15787e" font-weight="bold" text-anchor="middle" stroke="#15787e" stroke-width="0.25">BEV</text>
<text x="842.90" y="342.15" font-size="11.6" fill="#15787e" font-weight="bold" text-anchor="middle" stroke="#15787e" stroke-width="0.25">PHEV</text>
<text x="791.60" y="479.65" font-size="11.6" fill="#7fbac2" font-weight="bold" text-anchor="middle" stroke="#7fbac2" stroke-width="0.25">ICE</text>
<rect x="800.00" y="352.50" width="28.25" height="11.25" fill="#4ddbb4"/>
<text x="814.12" y="362.44" font-size="11.5" fill="#000" font-weight="bold" text-anchor="middle">0.9%</text>
<rect x="808.75" y="364.25" width="28.75" height="11.50" fill="#4ddbb4"/>
<text x="823.12" y="374.32" font-size="11.5" fill="#000" font-weight="bold" text-anchor="middle">7.1%</text>
<text x="801.25" y="454.87" font-size="11.5" fill="#0a0a0a" text-anchor="middle">91.9%</text>
<text x="813.90" y="402.70" font-size="10.67" fill="#0a0a0a" text-anchor="middle">(NEV+ICE)</text>
<text x="813.90" y="415.82" font-size="10.67" fill="#0a0a0a" text-anchor="middle">11,935</text>
<text x="813.90" y="428.82" font-size="10.67" fill="#ff0000" text-anchor="middle">-15.4%</text>
<path d="M989.20 347.70A59.3 59.3 0 0 1 1008.23 350.84L998.83 378.59A30 30 0 0 0 989.20 377.00Z" fill="#7eea96" stroke="#fff" stroke-width="1" stroke-linejoin="round"/>
<path d="M1008.23 350.84A59.3 59.3 0 0 1 1011.72 352.14L1000.59 379.25A30 30 0 0 0 998.83 378.59Z" fill="#7eea96" stroke="#fff" stroke-width="1" stroke-linejoin="round"/>
<path d="M1011.72 352.14A59.3 59.3 0 1 1 989.20 347.70L989.20 377.00A30 30 0 1 0 1000.59 379.25Z" fill="#c6f5d4" stroke="#fff" stroke-width="1" stroke-linejoin="round"/>
<text x="914.70" y="344.30" font-size="12.3" fill="#000" font-weight="bold">日系</text>
<text x="989.40" y="340.40" font-size="11.6" fill="#15787e" font-weight="bold" text-anchor="middle" stroke="#15787e" stroke-width="0.25">BEV</text>
<text x="1024.40" y="342.90" font-size="11.6" fill="#15787e" font-weight="bold" text-anchor="middle" stroke="#15787e" stroke-width="0.25">PHEV</text>
<text x="972.40" y="479.90" font-size="11.6" fill="#7fbac2" font-weight="bold" text-anchor="middle" stroke="#7fbac2" stroke-width="0.25">ICE</text>
<rect x="982.00" y="353.75" width="28.75" height="11.75" fill="#7eea96"/>
<text x="996.38" y="363.94" font-size="11.5" fill="#000" font-weight="bold" text-anchor="middle">5.2%</text>
<rect x="988.00" y="366.25" width="28.75" height="11.75" fill="#7eea96"/>
<text x="1002.38" y="376.44" font-size="11.5" fill="#000" font-weight="bold" text-anchor="middle">1.0%</text>
<text x="980.00" y="456.12" font-size="11.5" fill="#0a0a0a" text-anchor="middle">93.8%</text>
<text x="989.20" y="403.95" font-size="10.67" fill="#0a0a0a" text-anchor="middle">(NEV+ICE)</text>
<text x="989.20" y="417.07" font-size="10.67" fill="#0a0a0a" text-anchor="middle">213,981</text>
<text x="989.20" y="430.07" font-size="10.67" fill="#ff0000" text-anchor="middle">-6.7%</text>
<path d="M1158.75 347.70A59.3 59.3 0 0 1 1183.32 460.97L1171.18 434.30A30 30 0 0 0 1158.75 377.00Z" fill="#089ba3" stroke="#fff" stroke-width="1" stroke-linejoin="round"/>
<path d="M1183.32 460.97A59.3 59.3 0 0 1 1100.07 415.54L1129.06 411.32A30 30 0 0 0 1171.18 434.30Z" fill="#089ba3" stroke="#fff" stroke-width="1" stroke-linejoin="round"/>
<path d="M1100.07 415.54A59.3 59.3 0 0 1 1158.75 347.70L1158.75 377.00A30 30 0 0 0 1129.06 411.32Z" fill="#7fc4ca" stroke="#fff" stroke-width="1" stroke-linejoin="round"/>
<text x="1089.20" y="344.30" font-size="12.3" fill="#000" font-weight="bold">自主</text>
<text x="1227.50" y="370.90" font-size="11.6" fill="#15787e" font-weight="bold" text-anchor="middle" stroke="#15787e" stroke-width="0.25">BEV</text>
<text x="1114.40" y="474.15" font-size="11.6" fill="#15787e" font-weight="bold" text-anchor="middle" stroke="#15787e" stroke-width="0.25">PHEV</text>
<text x="1099.00" y="362.90" font-size="11.6" fill="#7fbac2" font-weight="bold" text-anchor="middle" stroke="#7fbac2" stroke-width="0.25">ICE</text>
<rect x="1180.00" y="392.00" width="33.75" height="11.75" fill="#089ba3"/>
<text x="1196.88" y="402.19" font-size="11.5" fill="#fff" font-weight="bold" text-anchor="middle">43.2%</text>
<rect x="1111.25" y="374.00" width="33.00" height="12.00" fill="#7fc4ca"/>
<text x="1127.75" y="384.32" font-size="11.5" fill="#0a0a0a" text-anchor="middle">27.3%</text>
<text x="1138.00" y="449.12" font-size="11.5" fill="#fff" font-weight="bold" text-anchor="middle">29.5%</text>
<text x="1156.75" y="402.45" font-size="10.67" fill="#0a0a0a" text-anchor="middle">(NEV+ICE)</text>
<text x="1156.75" y="415.82" font-size="10.67" fill="#0a0a0a" text-anchor="middle">1,150,025</text>
<text x="1156.75" y="428.32" font-size="10.67" fill="#0a0a0a" text-anchor="middle">30.6%</text>
<defs>
<linearGradient id="bg3" x1="0" y1="0" x2="0" y2="1"><stop offset="0" stop-color="#8595ab"/><stop offset=".5" stop-color="#8595ab"/><stop offset="1" stop-color="#fbfdfd" stop-opacity="0.92"/></linearGradient>
<linearGradient id="bg11" x1="0" y1="0" x2="0" y2="1"><stop offset="0" stop-color="#b9f2ca"/><stop offset=".5" stop-color="#b9f2ca"/><stop offset="1" stop-color="#fbfdfd" stop-opacity="0.92"/></linearGradient>
<linearGradient id="bg12" x1="0" y1="0" x2="0" y2="1"><stop offset="0" stop-color="#089ba3"/><stop offset=".5" stop-color="#089ba3"/><stop offset="1" stop-color="#fbfdfd" stop-opacity="0.92"/></linearGradient>
<linearGradient id="bg13" x1="0" y1="0" x2="0" y2="1"><stop offset="0" stop-color="#089ba3"/><stop offset=".5" stop-color="#089ba3"/><stop offset="1" stop-color="#fbfdfd" stop-opacity="0.92"/></linearGradient>
<linearGradient id="bg14" x1="0" y1="0" x2="0" y2="1"><stop offset="0" stop-color="#089ba3"/><stop offset=".5" stop-color="#089ba3"/><stop offset="1" stop-color="#fbfdfd" stop-opacity="0.92"/></linearGradient>
<linearGradient id="bg15" x1="0" y1="0" x2="0" y2="1"><stop offset="0" stop-color="#7fc4ca"/><stop offset=".5" stop-color="#7fc4ca"/><stop offset="1" stop-color="#fbfdfd" stop-opacity="0.92"/></linearGradient>
</defs>
<rect x="32.40" y="628.81" width="28.6" height="2.39" fill="#3f5a80"/>
<text x="46.40" y="618.63" font-size="10.67" fill="#404040" text-anchor="middle">19,616</text>
<text x="46.40" y="647.62" font-size="10.67" fill="#595959" text-anchor="middle">NEV</text>
<rect x="76.20" y="628.85" width="28.6" height="2.35" fill="#3f5a80"/>
<text x="90.20" y="618.67" font-size="10.67" fill="#404040" text-anchor="middle">19,270</text>
<text x="90.20" y="647.62" font-size="10.67" fill="#595959" text-anchor="middle">BEV</text>
<text x="134.00" y="621.02" font-size="10.67" fill="#404040" text-anchor="middle">346</text>
<text x="134.00" y="647.62" font-size="10.67" fill="#595959" text-anchor="middle">PHEV</text>
<rect x="163.80" y="600.20" width="28.6" height="31.00" fill="url(#bg3)"/>
<text x="177.80" y="590.02" font-size="10.67" fill="#404040" text-anchor="middle">254,046</text>
<text x="177.80" y="647.62" font-size="10.67" fill="#595959" text-anchor="middle">ICE</text>
<text x="221.53" y="621.02" font-size="10.67" fill="#404040" text-anchor="middle">363</text>
<text x="221.53" y="647.62" font-size="10.67" fill="#595959" text-anchor="middle">NEV</text>
<text x="265.33" y="621.02" font-size="10.67" fill="#404040" text-anchor="middle">363</text>
<text x="265.33" y="647.62" font-size="10.67" fill="#595959" text-anchor="middle">BEV</text>
<text x="309.13" y="621.02" font-size="10.67" fill="#404040" text-anchor="middle">0</text>
<text x="309.13" y="647.62" font-size="10.67" fill="#595959" text-anchor="middle">PHEV</text>
<text x="352.93" y="621.02" font-size="10.67" fill="#404040" text-anchor="middle">5,817</text>
<text x="352.93" y="647.62" font-size="10.67" fill="#595959" text-anchor="middle">ICE</text>
<text x="396.66" y="621.02" font-size="10.67" fill="#404040" text-anchor="middle">424</text>
<text x="396.66" y="647.62" font-size="10.67" fill="#595959" text-anchor="middle">NEV</text>
<text x="440.46" y="621.02" font-size="10.67" fill="#404040" text-anchor="middle">424</text>
<text x="440.46" y="647.62" font-size="10.67" fill="#595959" text-anchor="middle">BEV</text>
<text x="484.26" y="621.02" font-size="10.67" fill="#404040" text-anchor="middle">0</text>
<text x="484.26" y="647.62" font-size="10.67" fill="#595959" text-anchor="middle">PHEV</text>
<rect x="513.66" y="629.17" width="29.4" height="2.03" fill="#7cc3c9"/>
<text x="528.06" y="618.99" font-size="10.67" fill="#404040" text-anchor="middle">16,633</text>
<text x="528.06" y="647.62" font-size="10.67" fill="#595959" text-anchor="middle">ICE</text>
<rect x="557.39" y="627.02" width="29.4" height="4.18" fill="#12cfc8"/>
<text x="571.79" y="616.84" font-size="10.67" fill="#404040" text-anchor="middle">34,210</text>
<text x="571.79" y="647.62" font-size="10.67" fill="#595959" text-anchor="middle">NEV</text>
<rect x="601.19" y="627.50" width="29.4" height="3.70" fill="#12cfc8"/>
<text x="615.59" y="617.32" font-size="10.67" fill="#404040" text-anchor="middle">30,279</text>
<text x="615.59" y="647.62" font-size="10.67" fill="#595959" text-anchor="middle">BEV</text>
<text x="659.39" y="621.02" font-size="10.67" fill="#404040" text-anchor="middle">3,931</text>
<text x="659.39" y="647.62" font-size="10.67" fill="#595959" text-anchor="middle">PHEV</text>
<rect x="688.79" y="625.36" width="29.4" height="5.84" fill="#93e9e4"/>
<text x="703.19" y="615.18" font-size="10.67" fill="#404040" text-anchor="middle">47,824</text>
<text x="703.19" y="647.62" font-size="10.67" fill="#595959" text-anchor="middle">ICE</text>
<text x="746.92" y="621.02" font-size="10.67" fill="#404040" text-anchor="middle">961</text>
<text x="746.92" y="647.62" font-size="10.67" fill="#595959" text-anchor="middle">NEV</text>
<text x="790.72" y="621.02" font-size="10.67" fill="#404040" text-anchor="middle">108</text>
<text x="790.72" y="647.62" font-size="10.67" fill="#595959" text-anchor="middle">BEV</text>
<text x="834.52" y="621.02" font-size="10.67" fill="#404040" text-anchor="middle">853</text>
<text x="834.52" y="647.62" font-size="10.67" fill="#595959" text-anchor="middle">PHEV</text>
<rect x="863.92" y="629.86" width="29.4" height="1.34" fill="#9de8d2"/>
<text x="878.32" y="619.68" font-size="10.67" fill="#404040" text-anchor="middle">10,974</text>
<text x="878.32" y="647.62" font-size="10.67" fill="#595959" text-anchor="middle">ICE</text>
<rect x="907.65" y="629.59" width="29.4" height="1.61" fill="#7eea96"/>
<text x="922.05" y="619.41" font-size="10.67" fill="#404040" text-anchor="middle">13,204</text>
<text x="922.05" y="647.62" font-size="10.67" fill="#595959" text-anchor="middle">NEV</text>
<rect x="951.45" y="629.84" width="29.4" height="1.36" fill="#7eea96"/>
<text x="965.85" y="619.66" font-size="10.67" fill="#404040" text-anchor="middle">11,103</text>
<text x="965.85" y="647.62" font-size="10.67" fill="#595959" text-anchor="middle">BEV</text>
<text x="1009.65" y="621.02" font-size="10.67" fill="#404040" text-anchor="middle">2,101</text>
<text x="1009.65" y="647.62" font-size="10.67" fill="#595959" text-anchor="middle">PHEV</text>
<rect x="1039.05" y="606.70" width="29.4" height="24.50" fill="url(#bg11)"/>
<text x="1053.45" y="596.52" font-size="10.67" fill="#404040" text-anchor="middle">200,777</text>
<text x="1053.45" y="647.62" font-size="10.67" fill="#595959" text-anchor="middle">ICE</text>
<rect x="1082.78" y="529.20" width="29.4" height="102.00" fill="url(#bg12)"/>
<text x="1097.18" y="519.02" font-size="10.67" fill="#404040" text-anchor="middle">835,790</text>
<text x="1097.18" y="647.62" font-size="10.67" fill="#595959" text-anchor="middle">NEV</text>
<rect x="1126.58" y="570.55" width="29.4" height="60.65" fill="url(#bg13)"/>
<text x="1140.98" y="560.37" font-size="10.67" fill="#404040" text-anchor="middle">496,967</text>
<text x="1140.98" y="647.62" font-size="10.67" fill="#595959" text-anchor="middle">BEV</text>
<rect x="1170.38" y="589.85" width="29.4" height="41.35" fill="url(#bg14)"/>
<text x="1184.78" y="579.67" font-size="10.67" fill="#404040" text-anchor="middle">338,823</text>
<text x="1184.78" y="647.62" font-size="10.67" fill="#595959" text-anchor="middle">PHEV</text>
<rect x="1214.18" y="592.85" width="29.4" height="38.35" fill="url(#bg15)"/>
<text x="1228.58" y="582.67" font-size="10.67" fill="#404040" text-anchor="middle">314,235</text>
<text x="1228.58" y="647.62" font-size="10.67" fill="#595959" text-anchor="middle">ICE</text>
<path d="M24.5 631.4000000000001H1251.3" stroke="#000" stroke-width="1.1"/>
<path d="M25.0 631.2V635.0" stroke="#000" stroke-width="1.1"/>
<path d="M200.0 631.2V635.0" stroke="#000" stroke-width="1.1"/>
<path d="M374.9 631.2V635.0" stroke="#000" stroke-width="1.1"/>
<path d="M550.0 631.2V635.0" stroke="#000" stroke-width="1.1"/>
<path d="M725.4 631.2V635.0" stroke="#000" stroke-width="1.1"/>
<path d="M900.5 631.2V635.0" stroke="#000" stroke-width="1.1"/>
<path d="M1075.5 631.2V635.0" stroke="#000" stroke-width="1.1"/>
<path d="M1250.8 631.2V635.0" stroke="#000" stroke-width="1.1"/>
<text x="25.00" y="665.85" font-size="13" fill="#000" font-weight="bold" textLength="109" lengthAdjust="spacing">*NEV=BEV+PHEV</text>
</svg>
<footer>
<svg width="1280" height="721" viewBox="0 0 1280 721" aria-hidden="true"><path d="M0 694.1L1079 693.2" stroke="#1b8086" stroke-width="1.45"/><path d="M1189.5 694.1H1280" stroke="#1b8086" stroke-width="1.45"/></svg>
<svg width="1280" height="721" viewBox="0 0 1280 721">
<text x="11.60" y="712.00" font-size="12.6" fill="#1b7f84">秘书处</text>
<text x="59.60" y="712.00" font-size="12.58" fill="#1b7f84">地址：上海市武宁路423号18号楼1103室</text>
<text x="291.60" y="712.00" font-size="12.4" fill="#1b7f84">电话：021-52680968</text>
<text x="420.00" y="712.00" font-size="12.4" fill="#1b7f84">邮箱：cpcanews@sxtauto.com.cn</text>
<text x="1097.30" y="698.20" font-size="11" fill="#1b7f84" font-weight="bold" style="font-family:'Liberation Serif','Noto Serif CJK SC',serif" letter-spacing="1.65">深度分析报告</text>
<text x="1251.40" y="713.20" font-size="14.67" fill="#1b7f84">22</text>
</svg>
</footer>
</div>
</body>
</html>
